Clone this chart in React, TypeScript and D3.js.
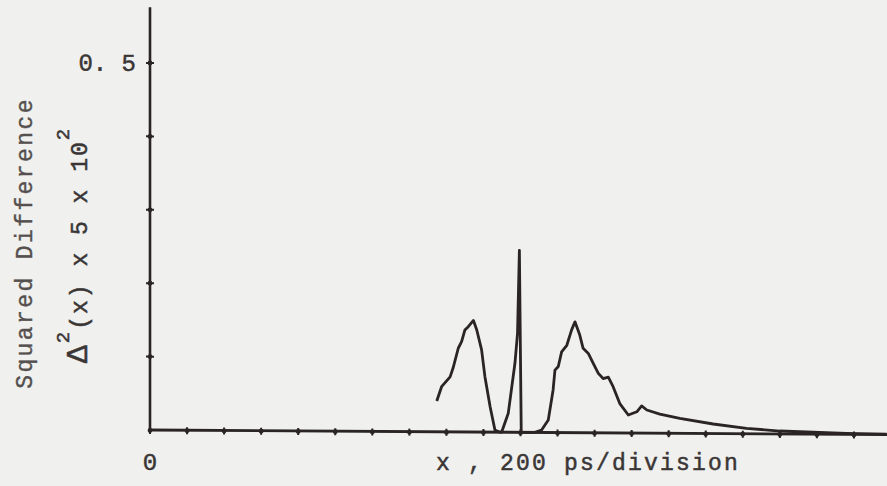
import React, { useRef, useEffect } from "react";
import * as d3 from "d3";

// x in divisions (200 ps each), y = squared difference x 5 x 10^2
const curveX = [
  7.74, 7.87, 8.1, 8.18, 8.32, 8.41, 8.5, 8.59, 8.73, 8.82, 8.95, 9.04, 9.18, 9.31, 9.45,
  9.49, 9.67, 9.85, 9.92, 9.97, 10.02, 10.39,
  10.57, 10.75, 10.88, 10.93, 11.02, 11.11, 11.25, 11.38, 11.47, 11.6, 11.69, 11.83, 11.96,
  12.1, 12.23, 12.37, 12.5, 12.68, 12.91, 13.14, 13.27, 13.41, 13.76, 14.3, 15.2, 16.1, 17.0,
  17.9, 18.8, 19.88,
];
const curveY = [
  0.042, 0.0615, 0.075, 0.087, 0.114, 0.123, 0.139, 0.1435, 0.152, 0.139, 0.112, 0.0755, 0.0346, 0.003, 0,
  0, 0.026, 0.094, 0.135, 0.248, 0, 0,
  0.0034, 0.017, 0.058, 0.085, 0.09, 0.11, 0.119, 0.14, 0.151, 0.133, 0.115, 0.108, 0.095,
  0.081, 0.074, 0.076, 0.063, 0.04, 0.0245, 0.029, 0.037, 0.0315, 0.026, 0.0205, 0.013, 0.0074, 0.004,
  0.0026, 0.0015, 0.0008,
];
const xTicks = d3.range(0, 20);
const yTicks = [0.1, 0.2, 0.3, 0.4, 0.5];
const yTickLabels = ["", "", "", "", "0. 5"];

const W = 887;
const H = 486;
const ORIGIN_X = 150;
const ORIGIN_Y = 430;

const App = () => {
  const ref = useRef<SVGSVGElement>(null);

  useEffect(() => {
    const svg = d3.select(ref.current);
    svg.selectAll("*").remove();

    const ink = "#2a2424";
    const font = "'Liberation Mono', 'DejaVu Sans Mono', monospace";

    svg.append("rect").attr("width", W).attr("height", H).attr("fill", "#f0f0ee");

    const x = d3.scaleLinear().domain([0, 1]).range([0, 37.05]);
    const y = d3.scaleLinear().domain([0, 0.1]).range([0, -73.4]);

    // plot group, slightly skewed like the hand-drawn baseline
    const g = svg
      .append("g")
      .attr("transform", `translate(${ORIGIN_X},${ORIGIN_Y}) skewY(0.36)`);

    // axes
    g.append("line")
      .attr("x1", 0).attr("x2", x(19.95))
      .attr("y1", 0).attr("y2", 0)
      .attr("stroke", ink).attr("stroke-width", 2.8);
    g.append("line")
      .attr("x1", 0).attr("x2", 0)
      .attr("y1", 0).attr("y2", y(0.576))
      .attr("stroke", ink).attr("stroke-width", 2.6);

    xTicks.forEach((t) => {
      g.append("line")
        .attr("x1", x(t)).attr("x2", x(t))
        .attr("y1", -3).attr("y2", 4)
        .attr("stroke", ink).attr("stroke-width", 2);
      g.append("circle").attr("cx", x(t)).attr("cy", 0.5).attr("r", 2.4).attr("fill", ink);
    });

    yTicks.forEach((t, i) => {
      g.append("line")
        .attr("x1", -4).attr("x2", 4)
        .attr("y1", y(t)).attr("y2", y(t))
        .attr("stroke", ink).attr("stroke-width", 2);
      g.append("circle").attr("cx", 0).attr("cy", y(t)).attr("r", 2.4).attr("fill", ink);
      if (yTickLabels[i]) {
        g.append("text")
          .attr("x", -14).attr("y", y(t) + 8)
          .attr("text-anchor", "end")
          .attr("font-family", font)
          .attr("font-size", 24)
          .attr("fill", "#3a3636")
          .attr("stroke", "#3a3636").attr("stroke-width", 0.5)
          .text(yTickLabels[i]);
      }
    });

    // curve
    const pts: [number, number][] = curveX.map((d, i) => [d, curveY[i]]);
    const line = d3.line<[number, number]>()
      .x((d) => x(d[0]))
      .y((d) => y(d[1]));
    g.append("path")
      .attr("d", line(pts))
      .attr("fill", "none")
      .attr("stroke", ink)
      .attr("stroke-width", 2.8)
      .attr("stroke-linejoin", "round");

    // labels
    svg.append("text")
      .attr("x", 150).attr("y", 470)
      .attr("text-anchor", "middle")
      .attr("font-family", font).attr("font-size", 24).attr("fill", "#3a3636")
      .attr("stroke", "#3a3636").attr("stroke-width", 0.5)
      .text("0");

    svg.append("text")
      .attr("x", 436).attr("y", 470)
      .attr("font-family", font).attr("font-size", 23).attr("fill", "#3a3636")
      .attr("stroke", "#3a3636").attr("stroke-width", 0.5)
      .attr("letter-spacing", 2.2)
      .text("x ,  200 ps/division");

    svg.append("text")
      .attr("transform", "translate(32,243) rotate(-90)")
      .attr("text-anchor", "middle")
      .attr("font-family", font).attr("font-size", 23).attr("fill", "#55504f")
      .attr("stroke", "#55504f").attr("stroke-width", 0.4)
      .attr("letter-spacing", 2.4)
      .text("Squared Difference");

    const t2 = svg.append("text")
      .attr("transform", "translate(87,245) rotate(-90)")
      .attr("text-anchor", "middle")
      .attr("font-family", font).attr("font-size", 23).attr("fill", "#3a3636")
      .attr("stroke", "#3a3636").attr("stroke-width", 0.5)
      .attr("letter-spacing", 2);
    t2.append("tspan").attr("font-size", 30).text("Δ");
    t2.append("tspan").attr("dy", -18).attr("font-size", 19).text("2");
    t2.append("tspan").attr("dy", 18).text("(x) x 5 x 10");
    t2.append("tspan").attr("dy", -18).attr("font-size", 19).text("2");
  }, []);

  return (
    <div style={{ position: "absolute", left: 0, top: 0 }}>
      <svg ref={ref} width={W} height={H} style={{ display: "block" }}></svg>
    </div>
  );
};

export default App;
